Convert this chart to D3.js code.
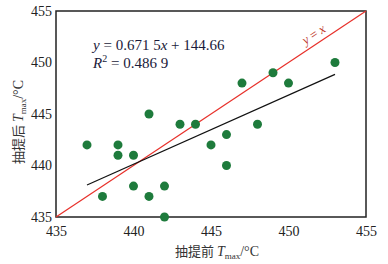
<!DOCTYPE html>
<html>
<head>
  <meta charset="utf-8" />
  <script src="https://d3js.org/d3.v7.min.js"></script>
  <style>
    body { margin: 0; background: #fff; }
    text { font-family: "Liberation Serif", "Noto Sans CJK SC", serif; }
  </style>
</head>
<body>
  <script>
    // Tmax before extraction (x) and after extraction (y)
    const xBefore = [437, 438, 439, 439, 440, 440, 441, 441, 442, 442, 443, 444, 445, 446, 446, 447, 448, 449, 450, 453];
    const yAfter  = [442, 437, 442, 441, 441, 438, 437, 445, 438, 435, 444, 444, 442, 443, 440, 448, 444, 449, 448, 450];
    const ticks = [435, 440, 445, 450, 455];
    const fitRange = [437, 453];
    const slope = 0.6715, intercept = 144.66;

    const width = 388, height = 264;
    const plotL = 56, plotR = 366, plotT = 11, plotB = 217;

    const svg = d3.select("body").append("svg")
      .attr("width", width)
      .attr("height", height);

    const scaleX = d3.scaleLinear().domain([435, 455]).range([plotL, plotR]);
    const scaleY = d3.scaleLinear().domain([435, 455]).range([plotB, plotT]);

    // frame
    svg.append("rect")
      .attr("x", plotL).attr("y", plotT)
      .attr("width", plotR - plotL).attr("height", plotB - plotT)
      .attr("fill", "none")
      .attr("stroke", "#222")
      .attr("stroke-width", 1.5);

    // axes (labels only)
    const axisX = svg.append("g")
      .attr("transform", `translate(0, ${plotB})`)
      .call(d3.axisBottom(scaleX).tickValues(ticks).tickSize(0).tickPadding(9));
    const axisY = svg.append("g")
      .attr("transform", `translate(${plotL}, 0)`)
      .call(d3.axisLeft(scaleY).tickValues(ticks).tickSize(0).tickPadding(4));
    [axisX, axisY].forEach(g => {
      g.select(".domain").remove();
      g.selectAll("text")
        .style("font-family", "Liberation Serif, serif")
        .style("font-size", "14px")
        .attr("fill", "#222");
    });

    // y = x line
    svg.append("line")
      .attr("x1", scaleX(435)).attr("y1", scaleY(435))
      .attr("x2", scaleX(455)).attr("y2", scaleY(455))
      .attr("stroke", "#e8302a")
      .attr("stroke-width", 1.2);

    // regression line
    const lineF = d3.line()
      .x(d => scaleX(d))
      .y(d => scaleY(slope * d + intercept));
    svg.append("path")
      .datum(fitRange)
      .attr("d", lineF)
      .attr("fill", "none")
      .attr("stroke", "#111")
      .attr("stroke-width", 1.2);

    // points
    svg.selectAll("circle")
      .data(xBefore)
      .enter()
      .append("circle")
      .attr("cx", d => scaleX(d))
      .attr("cy", (d, i) => scaleY(yAfter[i]))
      .attr("r", 4.5)
      .attr("fill", "#1e7b3c");

    // equation text
    const eq = svg.append("text")
      .attr("x", 93).attr("y", 50)
      .style("font-size", "15px")
      .attr("fill", "#1a1a3a");
    eq.append("tspan").style("font-style", "italic").text("y");
    eq.append("tspan").text(" = 0.671 5");
    eq.append("tspan").style("font-style", "italic").text("x");
    eq.append("tspan").text(" + 144.66");

    const r2 = svg.append("text")
      .attr("x", 93).attr("y", 68)
      .style("font-size", "15px")
      .attr("fill", "#1a1a3a");
    r2.append("tspan").style("font-style", "italic").text("R");
    r2.append("tspan").attr("dy", -6).style("font-size", "10px").text("2");
    r2.append("tspan").attr("dy", 6).text(" = 0.486 9");

    // y = x label
    const ang = Math.atan2(plotB - plotT, plotR - plotL) * 180 / Math.PI;
    const lbl = svg.append("text")
      .attr("transform", `translate(316, 38) rotate(${-ang})`)
      .attr("text-anchor", "middle")
      .style("font-size", "13px")
      .attr("fill", "#c0392b");
    lbl.append("tspan").style("font-style", "italic").text("y");
    lbl.append("tspan").text(" = ");
    lbl.append("tspan").style("font-style", "italic").text("x");

    // axis titles
    function title(sel, prefix) {
      sel.append("tspan").style("font-family", "Noto Sans CJK SC").style("font-size", "13px").text(prefix + " ");
      sel.append("tspan").style("font-style", "italic").text("T");
      sel.append("tspan").attr("dy", 3).style("font-size", "9px").text("max");
      sel.append("tspan").attr("dy", -3).text("/°C");
    }
    const xt = svg.append("text")
      .attr("x", 217).attr("y", 256)
      .attr("text-anchor", "middle")
      .style("font-size", "14px")
      .attr("fill", "#333");
    title(xt, "抽提前");

    const yt = svg.append("text")
      .attr("transform", "translate(23, 122) rotate(-90)")
      .attr("text-anchor", "middle")
      .style("font-size", "14px")
      .attr("fill", "#333");
    title(yt, "抽提后");
  </script>
</body>
</html>
